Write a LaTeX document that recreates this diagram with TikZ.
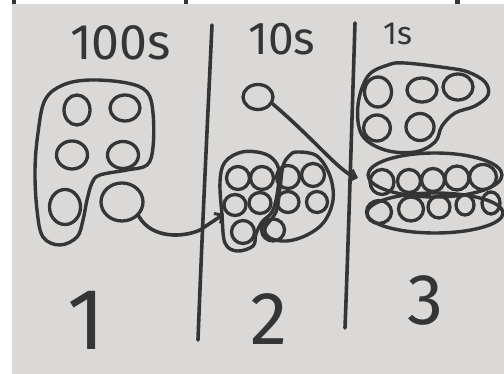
\documentclass[tikz,border=0pt]{standalone}
\usepackage{fontspec}
\newfontfamily\hand{Fira Sans}
\usetikzlibrary{shapes.geometric,arrows.meta}
\definecolor{board}{HTML}{DAD9D7}
\definecolor{pen}{HTML}{353535}
\begin{document}
\begin{tikzpicture}[x=1pt,y=-1pt,
  ink/.style={draw=pen,line width=3.6pt,line cap=round,line join=round},
  blob/.style={draw=pen,line width=3.4pt,line join=round},
  counter/.style={ellipse,draw=pen,line width=3.3pt,inner sep=0pt},
  lbl/.style={text=pen,inner sep=0pt},
  barb/.style={-{Straight Barb[length=6pt,width=12pt,line width=3pt]}}]
\useasboundingbox (0,0) rectangle (504,374);
\fill[white] (0,0) rectangle (504,374);
\fill[board] (12,4) rectangle (504,374);
% photo edge marks
\fill[pen] (12,0) rectangle (16,4);
\fill[pen] (184,0) rectangle (188,4);
\fill[pen] (455,0) rectangle (460,4);
% column dividers
\draw[ink] (212,25) .. controls (207,133) and (202,233) .. (198,340);
\draw[ink] (355,23) .. controls (351,150) and (348,250) .. (345,328);
% headings
\node[lbl,anchor=base west,font=\hand\fontsize{50}{50}\selectfont] (hh) at (70,60) {100s};
\node[lbl,anchor=base west,font=\hand\fontsize{46}{46}\selectfont] (th) at (248,55) {10s};
\node[lbl,anchor=base west,font=\hand\fontsize{32}{32}\selectfont] (oh) at (383,45) {1s};
% digits
\node[lbl,anchor=base,font=\hand\fontsize{87}{87}\selectfont] (d1) at (86,350) {1};
\node[lbl,anchor=base,font=\hand\fontsize{75}{75}\selectfont] (d2) at (269,345) {2};
\node[lbl,anchor=base,font=\hand\fontsize{72}{72}\selectfont] (d3) at (425,325) {3};
% hundreds
\draw[blob] plot[smooth cycle,tension=0.6] coordinates {(63,85) (90,80) (127,83) (147,92) (153,113) (153,147) (147,165) (127,170) (100,175) (92,183) (87,200) (83,220) (77,237) (60,245) (43,237) (37,210) (35,170) (38,133) (45,100)};
\node[counter,minimum width=26pt,minimum height=30pt] (h1) at (77,110) {};
\node[counter,minimum width=30pt,minimum height=26pt] (h2) at (125,108) {};
\node[counter,minimum width=31pt,minimum height=28pt] (h3) at (72,155) {};
\node[counter,minimum width=31pt,minimum height=27pt] (h4) at (123,155) {};
\node[counter,minimum width=31pt,minimum height=35pt] (h5) at (65,207) {};
\node[counter,minimum width=42pt,minimum height=38pt] (h6) at (122,202) {};
% tens
\node[counter,minimum width=30pt,minimum height=25pt] (t0) at (258,97) {};
\draw[blob] plot[smooth cycle,tension=0.6] coordinates {(242,152) (262,153) (274,160) (279,172) (277,195) (272,212) (262,222) (256,234) (253,246) (237,251) (225,243) (222,215) (220,182) (225,162)};
\draw[blob] plot[smooth cycle,tension=0.6] coordinates {(297,152) (317,156) (330,176) (333,200) (324,222) (307,235) (287,241) (270,238) (265,228) (276,212) (280,188) (283,166) (289,156)};
\node[counter,minimum width=23pt,minimum height=23pt] (t1) at (238,178) {};
\node[counter,minimum width=23pt,minimum height=23pt] (t2) at (262,178) {};
\node[counter,minimum width=23pt,minimum height=23pt] (t3) at (288,177) {};
\node[counter,minimum width=23pt,minimum height=23pt] (t4) at (313,175) {};
\node[counter,minimum width=22pt,minimum height=21pt] (t5) at (235,205) {};
\node[counter,minimum width=22pt,minimum height=21pt] (t6) at (260,203) {};
\node[counter,minimum width=22pt,minimum height=21pt] (t7) at (288,202) {};
\node[counter,minimum width=21pt,minimum height=21pt] (t8) at (317,202) {};
\node[counter,minimum width=23pt,minimum height=23pt] (t9) at (243,232) {};
\node[counter,minimum width=23pt,minimum height=22pt] (t10) at (273,230) {};
% ones
\draw[blob] plot[smooth cycle,tension=0.6] coordinates {(405,63) (448,68) (468,72) (485,82) (488,95) (475,106) (455,113) (442,126) (435,142) (415,152) (385,150) (362,135) (358,105) (368,76) (388,65)};
\node[counter,minimum width=27pt,minimum height=30pt] (o1) at (378,92) {};
\node[counter,minimum width=30pt,minimum height=24pt] (o2) at (422,90) {};
\node[counter,minimum width=30pt,minimum height=26pt] (o3) at (458,87) {};
\node[counter,minimum width=27pt,minimum height=26pt] (o4) at (377,128) {};
\node[counter,minimum width=28pt,minimum height=27pt] (o5) at (420,127) {};
\draw[blob] (435,175) ellipse (67 and 22);
\draw[blob] (435,213) ellipse (68 and 20);
\node[counter,minimum width=24pt,minimum height=25pt] (o6) at (382,182) {};
\node[counter,minimum width=23pt,minimum height=23pt] (o7) at (409,181) {};
\node[counter,minimum width=23pt,minimum height=23pt] (o8) at (433,180) {};
\node[counter,minimum width=24pt,minimum height=24pt] (o9) at (457,178) {};
\node[counter,minimum width=27pt,minimum height=25pt] (o10) at (483,177) {};
\node[counter,minimum width=25pt,minimum height=23pt] (o11) at (379,212) {};
\node[counter,minimum width=25pt,minimum height=24pt] (o12) at (411,209) {};
\node[counter,minimum width=22pt,minimum height=22pt] (o13) at (439,207) {};
\node[counter,minimum width=18pt,minimum height=20pt] (o14) at (465,205) {};
\node[counter,minimum width=18pt,minimum height=22pt] (o15) at (491,203) {};
% regrouping arrows
\coordinate (tenTip) at (224,214);
\coordinate (oneTip) at (358,178);
\draw[ink,barb] (h6.-40) .. controls (152,240) and (185,237) .. (200,230) -- (tenTip);
\draw[ink,barb] (t0.-25) .. controls (315,140) and (340,172) .. (oneTip);
\end{tikzpicture}
\end{document}
